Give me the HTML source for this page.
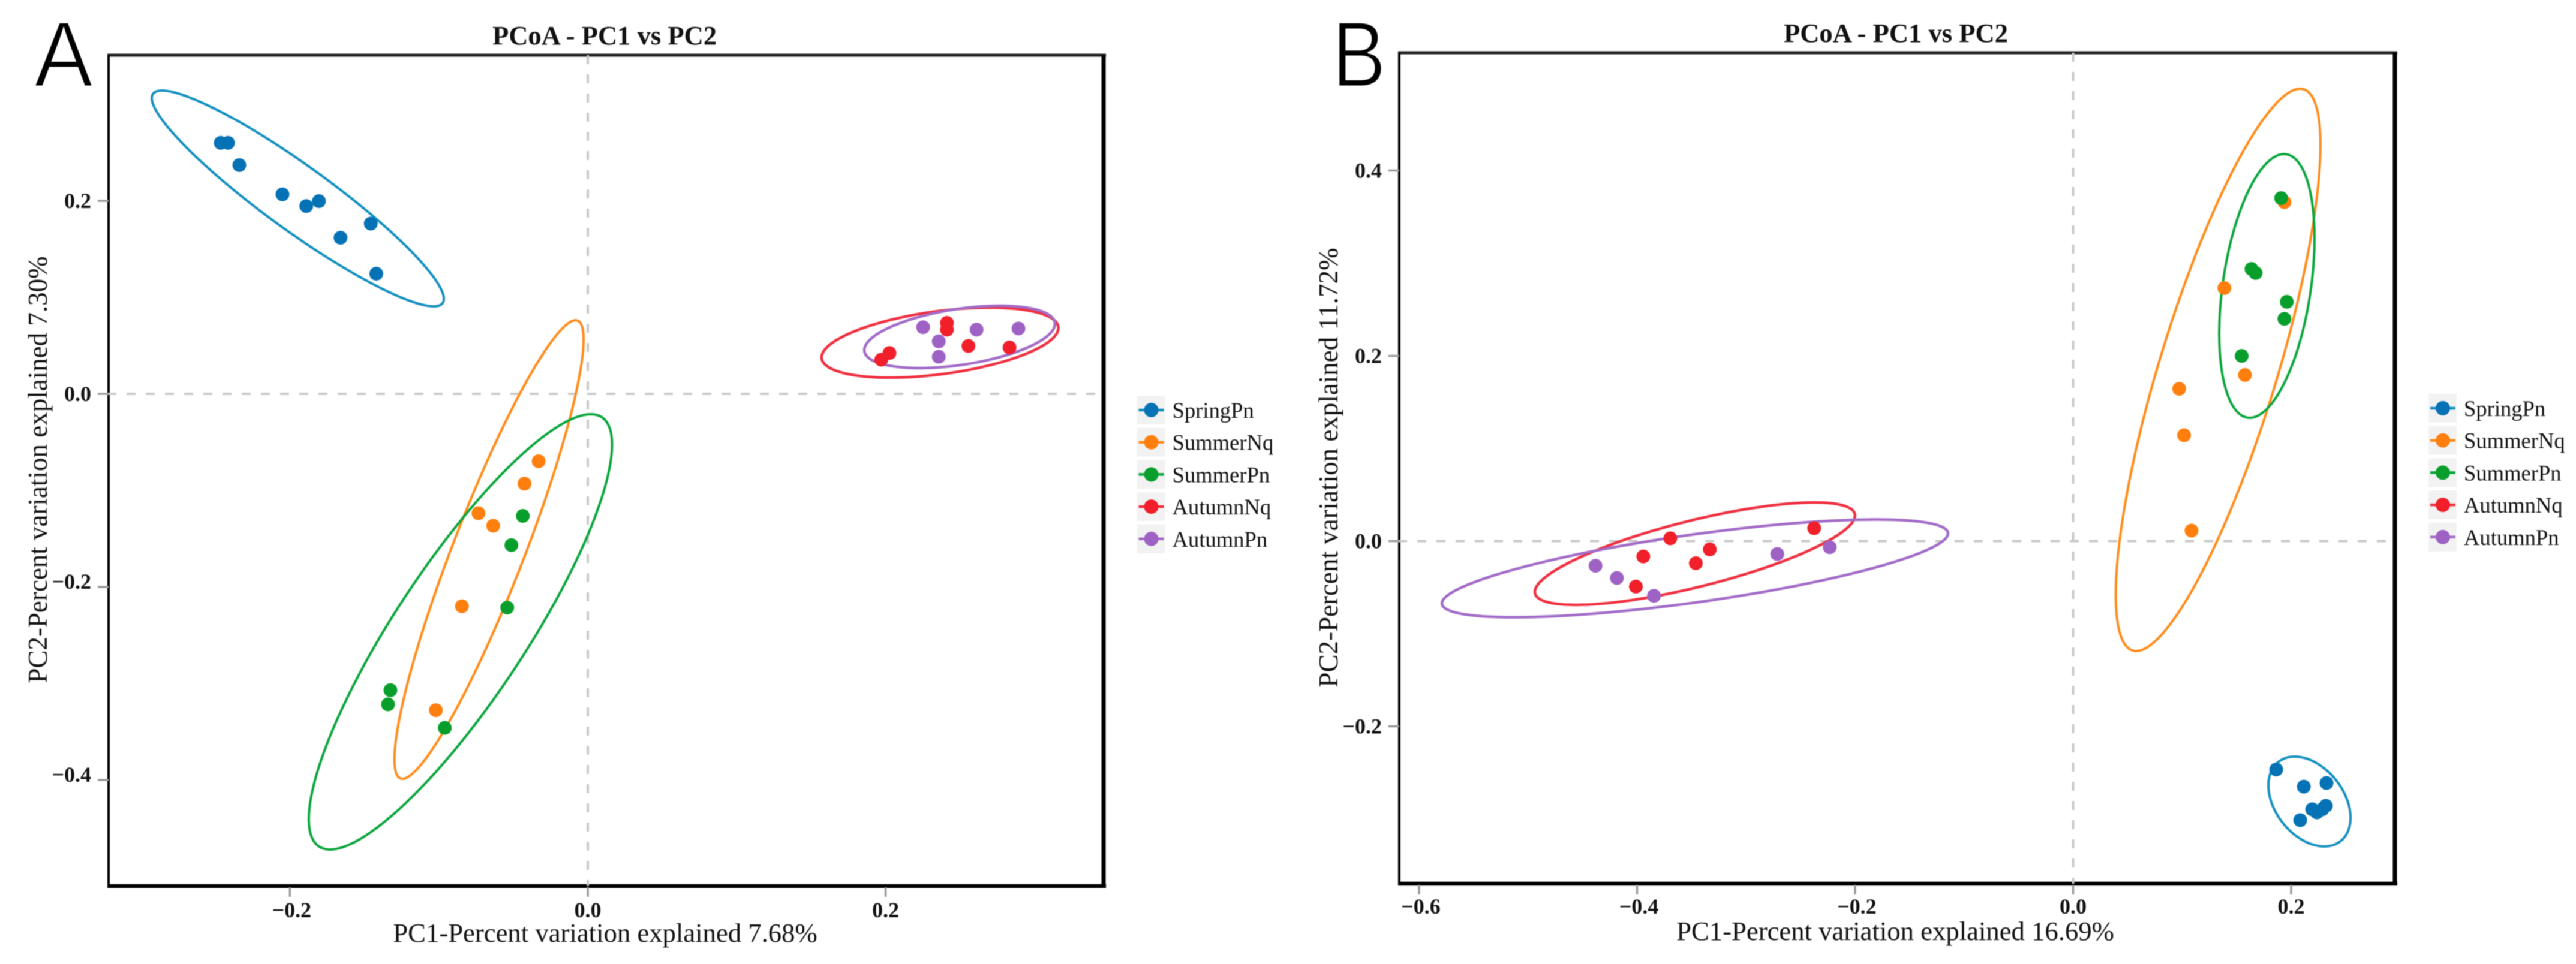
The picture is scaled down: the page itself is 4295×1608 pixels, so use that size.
<!DOCTYPE html>
<html lang="en">
<head>
<meta charset="utf-8">
<title>PCoA - PC1 vs PC2</title>
<style>
html,body{margin:0;padding:0;background:#fff;}
svg{display:block;filter:blur(0.8px);}
text{font-family:"Liberation Serif",serif;fill:#111;}
</style>
</head>
<body>
<svg id="chart" xmlns="http://www.w3.org/2000/svg" width="4295" height="1608" viewBox="0 0 4295 1608">
  <rect width="4295" height="1608" fill="#fff"/>
  <text x="57" y="144" font-size="155" textLength="98" lengthAdjust="spacingAndGlyphs" stroke="#fff" stroke-width="3" style="font-family:'Liberation Sans',sans-serif;fill:#000">A</text>
  <text x="2221" y="144" font-size="155" textLength="90" lengthAdjust="spacingAndGlyphs" stroke="#fff" stroke-width="3" style="font-family:'Liberation Sans',sans-serif;fill:#000">B</text>
  <text x="1008" y="74" font-size="44.6" font-weight="bold" text-anchor="middle">PCoA - PC1 vs PC2</text>
  <text x="3161" y="70" font-size="44.6" font-weight="bold" text-anchor="middle">PCoA - PC1 vs PC2</text>
  <text x="1009" y="1571" font-size="44.7" text-anchor="middle">PC1-Percent variation explained 7.68%</text>
  <text x="3160" y="1568" font-size="44.7" text-anchor="middle">PC1-Percent variation explained 16.69%</text>
  <text transform="translate(78 783.5) rotate(-90)" font-size="45" text-anchor="middle">PC2-Percent variation explained 7.30%</text>
  <text transform="translate(2230 780) rotate(-90)" font-size="45" text-anchor="middle">PC2-Percent variation explained 11.72%</text>
  <g id="panel-a"></g>
  <g id="panel-b"></g>
</svg>
<script>
// Shared categories and styles
const seriesNames = ['SpringPn', 'SummerNq', 'SummerPn', 'AutumnNq', 'AutumnPn'];
const dotColors = ['#0572b6', '#ff7f0e', '#089e2b', '#f01f2a', '#9e62c4'];
const ringColors = ['#1390c0', '#ff8c1a', '#0aa63c', '#f03040', '#a26cc8'];

// Panel A tick labels
const aXTicks = [-0.2, 0, 0.2];
const aYTicks = [-0.4, -0.2, 0, 0.2];

// Panel A samples
const aSpringPnX = [-0.2465, -0.2416, -0.234, -0.205, -0.189, -0.1805, -0.1457, -0.166, -0.142];
const aSpringPnY = [0.26, 0.26, 0.237, 0.2067, 0.1946, 0.1997, 0.1764, 0.1618, 0.1245];
const aSummerNqX = [-0.033, -0.0425, -0.0734, -0.0635, -0.0845, -0.102];
const aSummerNqY = [-0.0698, -0.093, -0.1236, -0.1366, -0.22, -0.3277];
const aSummerPnX = [-0.0436, -0.0513, -0.0541, -0.1325, -0.1341, -0.096];
const aSummerPnY = [-0.1264, -0.1567, -0.2214, -0.307, -0.3217, -0.346];
const aAutumnNqX = [0.2412, 0.2412, 0.2556, 0.2832, 0.2026, 0.1971];
const aAutumnNqY = [0.0736, 0.0666, 0.0497, 0.0481, 0.0424, 0.0354];
const aAutumnPnX = [0.2252, 0.2611, 0.2892, 0.2357, 0.2357];
const aAutumnPnY = [0.0691, 0.0666, 0.0678, 0.0545, 0.0385];

// Panel A confidence ellipses, one entry per series
const aEllipseCx = [-0.1947, -0.0663, -0.0855, 0.2365, 0.2497];
const aEllipseCy = [0.2025, -0.1612, -0.2466, 0.0531, 0.059];
const aEllipseHalfX = [0.0981, 0.0635, 0.1018, 0.0795, 0.064];
const aEllipseHalfY = [0.1118, 0.2376, 0.2255, 0.0363, 0.0323];
const aEllipseCorr = [-0.93, 0.915, 0.86, 0.42, 0.42];

// Panel B tick labels
const bXTicks = [-0.6, -0.4, -0.2, 0, 0.2];
const bYTicks = [-0.2, 0, 0.2, 0.4];

// Panel B samples
const bSpringPnX = [0.2116, 0.2325, 0.2193, 0.2237, 0.2286, 0.2319, 0.2083, 0.1863];
const bSpringPnY = [-0.2651, -0.2612, -0.2896, -0.2929, -0.2896, -0.2858, -0.3013, -0.2466];
const bSummerNqX = [0.1938, 0.1387, 0.1576, 0.0973, 0.1018, 0.1086];
const bSummerNqY = [0.3659, 0.2732, 0.1793, 0.1643, 0.1142, 0.0113];
const bSummerPnX = [0.1908, 0.1636, 0.1674, 0.196, 0.1938, 0.1546];
const bSummerPnY = [0.3702, 0.2938, 0.2895, 0.2583, 0.24, 0.1999];
const bAutumnNqX = [-0.3695, -0.3333, -0.3943, -0.3461, -0.4011, -0.2375];
const bAutumnNqY = [0.003, -0.009, -0.0166, -0.0239, -0.0491, 0.0139];
const bAutumnPnX = [-0.4381, -0.4185, -0.3845, -0.2714, -0.2232];
const bAutumnPnY = [-0.0266, -0.0398, -0.0591, -0.0139, -0.0066];

// Panel B confidence ellipses, one entry per series
const bEllipseCx = [0.2168, 0.133, 0.1777, -0.3469, -0.3469];
const bEllipseCy = [-0.2812, 0.1848, 0.2754, -0.0136, -0.0295];
const bEllipseHalfX = [0.0377, 0.0939, 0.0437, 0.1469, 0.2322];
const bEllipseHalfY = [0.0485, 0.3036, 0.1424, 0.0553, 0.0528];
const bEllipseCorr = [-0.36, 0.8, 0.36, 0.745, 0.715];

const NS = 'http://www.w3.org/2000/svg';

function mk(parent, tag, attrs, txt) {
  const el = document.createElementNS(NS, tag);
  for (const k in attrs) el.setAttribute(k, attrs[k]);
  if (txt !== undefined) el.textContent = txt;
  parent.appendChild(el);
  return el;
}

function fmt(v) {
  return (v < 0 ? '\u2212' : '') + Math.abs(v).toFixed(1);
}

function drawPanel(cfg) {
  const g = document.getElementById(cfg.id);
  const sx = v => cfg.x0 + v * cfg.kx;
  const sy = v => cfg.y0 - v * cfg.ky;

  // plot frame
  const f = cfg.frame;
  const edges = [
    ['frame-top', f.l - 2, f.t, f.r + 4, f.t, 5, '#222'],
    ['frame-left', f.l, f.t, f.l, f.b, 4, '#000'],
    ['frame-right', f.r, f.t, f.r, f.b + 3, 7, '#000'],
    ['frame-bottom', f.l - 2, f.b, f.r + 4, f.b, 6.5, '#000']
  ];
  edges.forEach(e => {
    const line = mk(g, 'line', {x1: e[1], y1: e[2], x2: e[3], y2: e[4], 'stroke-width': e[5], stroke: e[6]});
    
    
  });

  // zero reference lines
  const hZero = mk(g, 'line', {x1: f.l - 2, y1: sy(0), x2: f.r, y2: sy(0), stroke: '#c9c9c9', 'stroke-width': 4, 'stroke-dasharray': '15 17'});
  
  
  const vZero = mk(g, 'line', {x1: sx(0), y1: f.t, x2: sx(0), y2: f.b, stroke: '#c9c9c9', 'stroke-width': 4, 'stroke-dasharray': '15 17'});
  
  

  // y ticks
  cfg.yTicks.forEach(v => {
    const tick = mk(g, 'line', {x1: f.l - 18, y1: sy(v), x2: f.l, y2: sy(v), stroke: '#9a9a9a', 'stroke-width': 3.5});
    
    
    const shift = v < 0 ? cfg.negLabelShift : 0;
    const label = mk(g, 'text', {x: f.l - 29, y: sy(v) + 12 + shift, 'font-size': 36, 'font-weight': 'bold', 'text-anchor': 'end'}, fmt(v));
    
    
  });

  // x ticks
  cfg.xTicks.forEach(v => {
    const tick = mk(g, 'line', {x1: sx(v), y1: f.b + 2, x2: sx(v), y2: f.b + 18, stroke: '#9a9a9a', 'stroke-width': 3.5});
    
    
    const label = mk(g, 'text', {x: sx(v) + (v < 0 ? 3 : 0), y: cfg.xLabelY, 'font-size': 36, 'font-weight': 'bold', 'text-anchor': 'middle'}, fmt(v));
    
    
  });

  // confidence ellipses
  seriesNames.forEach((name, i) => {
    const r = cfg.corr[i];
    const q = Math.sqrt(1 - r * r);
    let d = '';
    for (let k = 0; k < 120; k++) {
      const t = k / 120 * 2 * Math.PI;
      const px = sx(cfg.cx[i] + cfg.hx[i] * Math.cos(t));
      const py = sy(cfg.cy[i] + cfg.hy[i] * (r * Math.cos(t) + q * Math.sin(t)));
      d += (k ? 'L' : 'M') + px.toFixed(1) + ' ' + py.toFixed(1);
    }
    const ring = mk(g, 'path', {d: d + 'Z', fill: 'none', stroke: ringColors[i], 'stroke-width': i >= 3 ? 4.5 : 4});
    
    
  });

  // sample points
  seriesNames.forEach((name, i) => {
    const xs = cfg.xs[i];
    const ys = cfg.ys[i];
    xs.forEach((v, k) => {
      const dot = mk(g, 'circle', {cx: sx(v), cy: sy(ys[k]), r: 11.5, fill: dotColors[i]});
      
      
    });
  });

  // legend
  seriesNames.forEach((name, i) => {
    const cy = cfg.legendY + i * 53.7;
    const entry = mk(g, 'g', {});
    
    
    mk(entry, 'rect', {x: cfg.legendX - 24, y: cy - 24, width: 47, height: 48, fill: '#f2f2f2'});
    mk(entry, 'line', {x1: cfg.legendX - 21, y1: cy, x2: cfg.legendX + 21, y2: cy, stroke: ringColors[i], 'stroke-width': 4.5});
    mk(entry, 'circle', {cx: cfg.legendX, cy: cy, r: 12, fill: dotColors[i]});
    mk(entry, 'text', {x: cfg.legendX + 35, y: cy + 13, 'font-size': 36.6}, name);
  });
}

drawPanel({
  id: 'panel-a',
  x0: 980, kx: 2483, y0: 657, ky: 1610,
  frame: {l: 181, t: 92, r: 1840, b: 1478},
  negLabelShift: -9, xLabelY: 1530,
  legendX: 1919.5, legendY: 684,
  xTicks: aXTicks, yTicks: aYTicks,
  xs: [aSpringPnX, aSummerNqX, aSummerPnX, aAutumnNqX, aAutumnPnX],
  ys: [aSpringPnY, aSummerNqY, aSummerPnY, aAutumnNqY, aAutumnPnY],
  cx: aEllipseCx, cy: aEllipseCy, hx: aEllipseHalfX, hy: aEllipseHalfY, corr: aEllipseCorr
});

drawPanel({
  id: 'panel-b',
  x0: 3456.5, kx: 1817.5, y0: 902.5, ky: 1545,
  frame: {l: 2333, t: 88, r: 3993, b: 1474},
  negLabelShift: 0, xLabelY: 1524,
  legendX: 4073, legendY: 681,
  xTicks: bXTicks, yTicks: bYTicks,
  xs: [bSpringPnX, bSummerNqX, bSummerPnX, bAutumnNqX, bAutumnPnX],
  ys: [bSpringPnY, bSummerNqY, bSummerPnY, bAutumnNqY, bAutumnPnY],
  cx: bEllipseCx, cy: bEllipseCy, hx: bEllipseHalfX, hy: bEllipseHalfY, corr: bEllipseCorr
});
</script>
</body>
</html>
